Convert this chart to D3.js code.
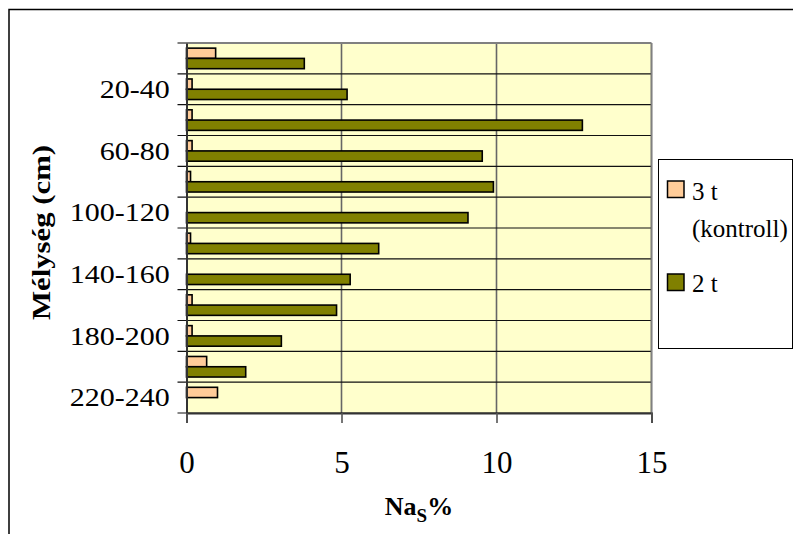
<!DOCTYPE html>
<html>
<head>
<meta charset="utf-8">
<script src="https://cdn.jsdelivr.net/npm/d3@7"></script>
<style>
  html, body { margin: 0; padding: 0; background: #fff; }
  svg { display: block; }
  svg text { font-family: "Liberation Serif", "Times New Roman", serif; }
</style>
</head>
<body>
<svg id="chart" width="793" height="534"></svg>
<script>
// Soil depth layers (cm)
const categories = ["0-20", "20-40", "40-60", "60-80", "80-100", "100-120",
                    "120-140", "140-160", "160-180", "180-200", "200-220", "220-240"];
// Exchangeable Na (S%) per layer
const kontrollValues = [0.94, 0.18, 0.18, 0.18, 0.13, 0, 0.13, 0, 0.18, 0.18, 0.65, 1.0];
const t2Values       = [3.8, 5.18, 12.77, 9.54, 9.9, 9.08, 6.2, 5.28, 4.84, 3.06, 1.91, 0];
const seriesNames  = ["3 t", "2 t"];
const seriesColors = ["#FFCC99", "#808000"];
const xTicks = [0, 5, 10, 15];

const FONT = "Liberation Serif";
const svg = d3.select("#chart");

// outer frame
svg.append("rect")
  .attr("x", 9).attr("y", 9.5).attr("width", 820).attr("height", 560)
  .attr("fill", "none").attr("stroke", "#000").attr("stroke-width", 1.5);

const plot = { left: 186.5, right: 651.5, top: 43, bottom: 413 };

const x = d3.scaleLinear().domain([0, 15]).range([plot.left, plot.right]);
const y = d3.scaleBand().domain(categories).range([plot.top, plot.bottom]);
const bw = y.bandwidth();
const sub = d3.scaleBand().domain([0, 1]).range([bw / 6, bw * 5 / 6]);

// plot background
svg.append("rect")
  .attr("x", plot.left).attr("y", plot.top)
  .attr("width", plot.right - plot.left).attr("height", plot.bottom - plot.top)
  .attr("fill", "#FFFFCC");

// vertical gridlines
svg.append("g").selectAll("line")
  .data(xTicks.slice(1))
  .join("line")
  .attr("x1", d => x(d)).attr("x2", d => x(d))
  .attr("y1", plot.top).attr("y2", plot.bottom)
  .attr("stroke", "#666").attr("stroke-width", 1.6);

// horizontal lines at layer boundaries (with outward tick)
const bounds = categories.map(c => y(c)).concat([plot.bottom]);
svg.append("g").selectAll("line")
  .data(bounds)
  .join("line")
  .attr("x1", plot.left - 9).attr("x2", plot.right)
  .attr("y1", d => d).attr("y2", d => d)
  .attr("stroke", (d, i) => i === 0 ? "#808080" : "#111")
  .attr("stroke-width", (d, i) => i === 0 ? 2 : 1.2);

// bars
const rows = categories.map((c, i) => ({ c, vals: [kontrollValues[i], t2Values[i]] }));
const groups = svg.append("g").selectAll("g")
  .data(rows)
  .join("g")
  .attr("transform", d => `translate(0,${y(d.c)})`);
groups.selectAll("rect")
  .data(d => d.vals.map((v, k) => ({ v, k })).filter(e => e.v > 0))
  .join("rect")
  .attr("x", x(0))
  .attr("y", e => sub(e.k))
  .attr("width", e => x(e.v) - x(0))
  .attr("height", sub.bandwidth())
  .attr("fill", e => seriesColors[e.k])
  .attr("stroke", "#000")
  .attr("stroke-width", 1.6);

// right border of plot
svg.append("line")
  .attr("x1", plot.right).attr("x2", plot.right)
  .attr("y1", plot.top).attr("y2", plot.bottom)
  .attr("stroke", "#808080").attr("stroke-width", 1.6);

// left axis with layer labels (every second one)
const yAxis = d3.axisLeft(y)
  .tickValues(categories.filter((c, i) => i % 2 === 1))
  .tickSize(0).tickPadding(14);
const yg = svg.append("g").attr("transform", `translate(${plot.left},0)`).call(yAxis);
yg.attr("font-family", FONT);
yg.select(".domain").attr("stroke", "#333").attr("stroke-width", 2);
yg.selectAll("text")
  .attr("font-family", FONT).attr("font-size", 25)
  .attr("fill", "#000")
  .attr("dy", "0.35em")
  .attr("transform", "scale(1.2,1)");

// bottom axis
const xAxis = d3.axisBottom(x).tickValues(xTicks).tickSize(10).tickPadding(28);
const xg = svg.append("g").attr("transform", `translate(0,${plot.bottom})`).call(xAxis);
xg.attr("font-family", FONT);
xg.select(".domain").attr("stroke", "#333").attr("stroke-width", 2);
xg.selectAll(".tick line").attr("stroke", "#555").attr("stroke-width", 1.6);
xg.selectAll("text")
  .attr("font-family", FONT).attr("font-size", 31)
  .attr("fill", "#000");

// axis titles
svg.append("text")
  .attr("transform", "translate(50,232.5) rotate(-90)")
  .attr("text-anchor", "middle")
  .attr("font-family", FONT)
  .attr("font-weight", "bold").attr("font-size", 26)
  .attr("textLength", 175).attr("lengthAdjust", "spacingAndGlyphs")
  .text("Mélység (cm)");

const xt = svg.append("text")
  .attr("x", 419).attr("y", 515)
  .attr("text-anchor", "middle")
  .attr("font-family", FONT)
  .attr("font-weight", "bold").attr("font-size", 26);
xt.append("tspan").text("Na");
xt.append("tspan").attr("font-size", 19).attr("dy", 7).text("S");
xt.append("tspan").attr("dy", -7).text("%");

// legend
const lg = svg.append("g").attr("font-family", FONT);
lg.append("rect")
  .attr("x", 658.5).attr("y", 159.5).attr("width", 134).attr("height", 189)
  .attr("fill", "#fff").attr("stroke", "#000").attr("stroke-width", 1);
const legendItems = [
  { name: seriesNames[0], extra: "(kontroll)", color: seriesColors[0], sy: 181, ty: 200 },
  { name: seriesNames[1], extra: null, color: seriesColors[1], sy: 274, ty: 292 }
];
legendItems.forEach(it => {
  lg.append("rect")
    .attr("x", 667.5).attr("y", it.sy).attr("width", 16.5).attr("height", 16.5)
    .attr("fill", it.color).attr("stroke", "#000").attr("stroke-width", 1.5);
  lg.append("text")
    .attr("x", 692).attr("y", it.ty)
    .attr("font-family", FONT)
    .attr("font-size", 25).text(it.name);
  if (it.extra) {
    lg.append("text")
      .attr("x", 692).attr("y", it.ty + 37)
      .attr("font-family", FONT)
      .attr("font-size", 25).text(it.extra);
  }
});
</script>
</body>
</html>
